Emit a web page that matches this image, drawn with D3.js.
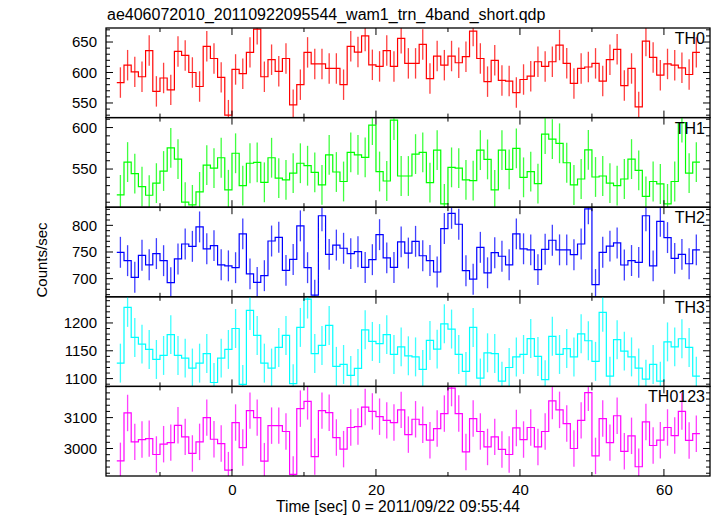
<!DOCTYPE html>
<html>
<head>
<meta charset="utf-8">
<script src="https://cdn.jsdelivr.net/npm/d3@7"></script>
<style>
html,body{margin:0;padding:0;background:#fff;}
svg{display:block;font-family:"Liberation Sans",Arial,Helvetica,sans-serif;}
</style>
</head>
<body>
<svg id="chart" width="717" height="516"></svg>
<script>
// ---- data ----
const binStart = -15.5;   // centre of first 1-s bin
const binWidth = 1;
const th0 = [583.5,612,601,593,636,569,591,571.5,634.6,628,600,577,643,623,592,530,605,598,633,671,593,621,602,623,547,580,633,614,614,606.6,606.6,580,643,633.5,660,612.6,610,636,610,656,615,615,646,590,627,612,627,616,626,668,623,585,620,587,586,567,588.5,594,617.6,610,617.6,645,615,582,606.6,609,615,586,621,638,578.6,606.6,543.5,651.6,624.7,595.6,614,612,607.7,596.7,633];
const th1 = [518.8,558.4,544.4,528.8,518.4,533,547.6,575.6,562,510,506.8,522.4,554.8,551,563.6,525,569,530,557,558,534,563.6,539,537,545,557,554,546,531,567,546.4,535,570,567,564,603,547,535.6,609,541.6,541.6,568,570,533.6,572.8,508,552,551,537,536,572.8,561.6,524.8,572.8,549.6,575,540,546.8,532.4,592,586,581,557.6,530.8,538,573,540.4,541.6,533,530,538,562,548.4,517,535,532,508,535,606,545,558.4];
const th2 = [749.4,733.75,702.5,743.75,726,747,733.75,692.5,737,765,760.6,797,756,762,726,724,720.6,784,709,693,705.6,770.6,777.5,715.6,736,799,720.6,669,818,745.6,763,757,747,750.6,721,735.6,782.5,739,721,769,748,770,743,734,712.5,794,822.5,802,715,699,758.75,711,748.75,742,726,784,756,754,717,755,772,754,754,745,765,831,689,749.4,761,767,725.6,734,730.6,818,724,807.5,777,738,745.6,728,754];
const th3 = [1127.8,1228,1174,1162,1152.4,1134.4,1141.6,1179,1141.6,1136.8,1119,1127.8,1145,1093,1136.8,1152.4,1190,1089.5,1222.5,1177.6,1127.8,1119,1156,1177.6,1091,1192,1243,1145,1159.6,1195.5,1122,1125.4,1105.7,1118.3,1187.7,1166.8,1163,1179,1143.4,1157,1141,1139,1116.5,1168.6,1153,1198.5,1189,1143.4,1113,1192,1101,1146.4,1145,1095.5,1120,1139,1143.4,1172,1139.8,1098,1176,1143.4,1154,1139,1180.5,1168,1131,1219,1104.5,1170,1149.4,1139,1119,1099,1125.4,1095.5,1166,1157,1171.6,1156,1104.5];
const th0123 = [2960,3115,3021.5,3029,3032,2980.6,3014,3019,3075,3037.6,2984,3021.5,3100,3030,3016,2930,3084,3003,3122.6,3100,2959,3074,3074,3055,2916,3129,3152.6,2974,3122.6,3116,3035.5,2998,3068,3071,3134,3120,3103,3091,3084,3125,3045,3094.6,3077,3027,3064.5,3113,3195.6,3113,2989,3097,3055,3005,3037.6,2997,2980.6,3066.6,3029,3068,3005,3055,3154,3125,3080.6,3000,3091,3180.6,2976,3097,3019,3106,2991,3041,2941,3086,3009.7,3027,3068,3042,3120,3026,3048];
const errors = [25, 24, 29, 35, 59];
const panelNames = ["TH0","TH1","TH2","TH3","TH0123"];
const panelColors = ["#ff0000","#00ff00","#0000ff","#00ffff","#ff00ff"];
const yDomains = [[526,673],[504,612],[666,834],[1086,1247],[2911,3201]];
const yMajorTicks = [[550,600,650],[550,600],[700,750,800],[1100,1150,1200],[3000,3100]];
const yMinorStep = [10,10,10,10,20];
const xDomain = [-17.5, 66.4];
const xMajorTicks = [0,20,40,60];
const xMinorTicks = [-10,10,30,50];
const titleText = "ae406072010_20110922095544_wam1_trn_4band_short.qdp";
const xLabel = "Time [sec] 0 = 2011/09/22 09:55:44";
const yLabel = "Counts/sec";

const series = [th0, th1, th2, th3, th0123];

// ---- layout ----
(function () {
const svg = d3.select("#chart");
const L = 106, R = 710, T = 28, B = 476;
const nP = 5;
const ph = (B - T) / nP;
const x = d3.scaleLinear().domain(xDomain).range([L, R]);
const fmt = d3.format("d");

const defs = svg.append("defs");

series.forEach((vals, p) => {
  const y0 = T + p * ph, y1 = y0 + ph;
  const y = d3.scaleLinear().domain(yDomains[p]).range([y1, y0]);
  const col = panelColors[p];
  const clipId = "clip" + p;
  defs.append("clipPath").attr("id", clipId)
    .append("rect").attr("x", L).attr("y", y0).attr("width", R - L).attr("height", ph);
  const g = svg.append("g").attr("clip-path", `url(#${clipId})`);
  const centers = vals.map((v, i) => binStart + i * binWidth);
  // error bars
  g.selectAll("line.err").data(vals).enter().append("line")
    .attr("x1", (d, i) => x(centers[i])).attr("x2", (d, i) => x(centers[i]))
    .attr("y1", d => y(d - errors[p])).attr("y2", d => y(d + errors[p]))
    .attr("stroke", col).attr("stroke-width", 1.3).attr("opacity", 0.75);
  // step line
  const pts = vals.map((v, i) => [centers[i] - binWidth / 2, v]);
  pts.push([centers[centers.length - 1] + binWidth / 2, vals[vals.length - 1]]);
  const line = d3.line().x(d => x(d[0])).y(d => y(d[1])).curve(d3.curveStepAfter);
  g.append("path").attr("d", line(pts)).attr("fill", "none")
    .attr("stroke", col).attr("stroke-width", 1.2);

  // frame
  svg.append("rect").attr("x", L).attr("y", y0).attr("width", R - L).attr("height", ph)
    .attr("fill", "none").attr("stroke", "#000").attr("stroke-width", 1.3);

  // y ticks (left & right, inward)
  const minor = d3.range(Math.ceil(yDomains[p][0] / yMinorStep[p]) * yMinorStep[p], yDomains[p][1], yMinorStep[p])
    .filter(v => !yMajorTicks[p].includes(v));
  const tk = svg.append("g").attr("stroke", "#000").attr("stroke-width", 1);
  minor.forEach(v => {
    tk.append("line").attr("x1", L).attr("x2", L + 4).attr("y1", y(v)).attr("y2", y(v));
    tk.append("line").attr("x1", R).attr("x2", R - 4).attr("y1", y(v)).attr("y2", y(v));
  });
  yMajorTicks[p].forEach(v => {
    tk.append("line").attr("x1", L).attr("x2", L + 7).attr("y1", y(v)).attr("y2", y(v));
    tk.append("line").attr("x1", R).attr("x2", R - 7).attr("y1", y(v)).attr("y2", y(v));
  });
  // y tick labels via axis
  const ax = d3.axisLeft(y).tickValues(yMajorTicks[p]).tickFormat(fmt).tickSize(0).tickPadding(9);
  const axg = svg.append("g").attr("transform", `translate(${L},0)`).call(ax);
  axg.select(".domain").remove();
  axg.selectAll("text").attr("font-size", 15).attr("font-family", "Liberation Sans, Arial, sans-serif").attr("fill", "#000");

  // x ticks on top & bottom of each panel
  xMajorTicks.forEach(v => {
    tk.append("line").attr("x1", x(v)).attr("x2", x(v)).attr("y1", y0).attr("y2", y0 + 7);
    tk.append("line").attr("x1", x(v)).attr("x2", x(v)).attr("y1", y1).attr("y2", y1 - 7);
  });
  xMinorTicks.forEach(v => {
    tk.append("line").attr("x1", x(v)).attr("x2", x(v)).attr("y1", y0).attr("y2", y0 + 4);
    tk.append("line").attr("x1", x(v)).attr("x2", x(v)).attr("y1", y1).attr("y2", y1 - 4);
  });

  // panel label
  svg.append("text").attr("x", 705).attr("y", y0 + 16).attr("text-anchor", "end")
    .attr("font-size", 16).attr("fill", "#000").text(panelNames[p]);
});

// x tick labels
const xa = d3.axisBottom(x).tickValues(xMajorTicks).tickFormat(fmt).tickSize(0).tickPadding(8);
const xag = svg.append("g").attr("transform", `translate(0,${B})`).call(xa);
xag.select(".domain").remove();
xag.selectAll("text").attr("font-size", 15).attr("font-family", "Liberation Sans, Arial, sans-serif").attr("fill", "#000");

svg.append("text").attr("x", 398).attr("y", 512).attr("text-anchor", "middle").attr("font-size", 15.6).attr("fill", "#000").text(xLabel);
svg.append("text").attr("x", 107).attr("y", 20).attr("font-size", 16).attr("fill", "#000").text(titleText);
svg.append("text").attr("transform", "translate(47,260) rotate(-90)").attr("text-anchor", "middle")
  .attr("font-size", 15).attr("fill", "#000").text(yLabel);
})();
</script>
</body>
</html>
